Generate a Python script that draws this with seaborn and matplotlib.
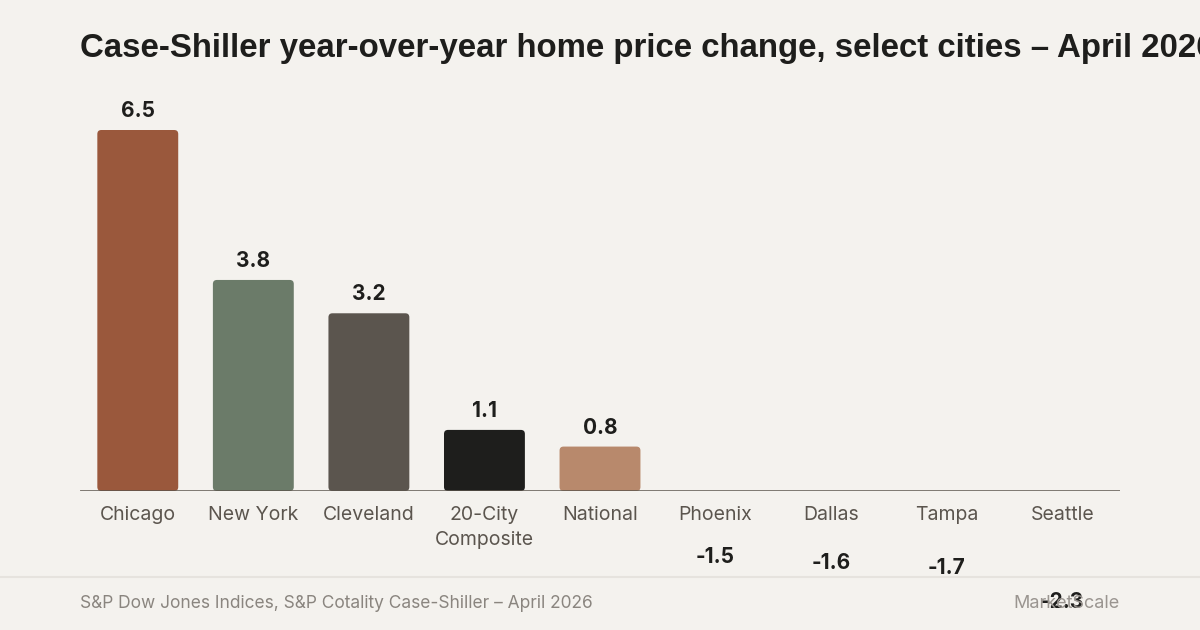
import numpy as np
import pandas as pd
import matplotlib
matplotlib.use("Agg")
import matplotlib.pyplot as plt
from matplotlib.patches import FancyBboxPatch
import seaborn as sns

cities = ["Chicago", "New York", "Cleveland", "20-City\nComposite", "National",
          "Phoenix", "Dallas", "Tampa", "Seattle"]
yoy_change = [6.5, 3.8, 3.2, 1.1, 0.8, -1.5, -1.6, -1.7, -2.3]
bar_colors = ["#9a583c", "#6b7b69", "#5b554e", "#1e1e1c", "#b8896c",
              "#c9a892", "#c9a892", "#c9a892", "#c9a892"]

title = "Case-Shiller year-over-year home price change, select cities \u2013 April 2026"
source = "S&P Dow Jones Indices, S&P Cotality Case-Shiller \u2013 April 2026"

BG = "#f4f2ee"

sns.set_theme(style="white")
plt.rcParams["font.family"] = ["Inter", "DejaVu Sans"]

df = pd.DataFrame({"city": cities, "change": yoy_change})

fig = plt.figure(figsize=(12, 6.3), dpi=100, facecolor=BG)
ax = fig.add_axes([80 / 1200, (630 - 491) / 630, 1040 / 1200, 391 / 630])
ax.set_facecolor(BG)

sns.barplot(data=df, x="city", y="change", hue="city", palette=bar_colors,
            legend=False, width=0.7, saturation=1, linewidth=0, ax=ax)

ax.set_xlim(-0.5, len(cities) - 0.5)
ymax = 6.5 * 391 / 361
ax.set_ylim(0, ymax)

# rounded corners on the visible (positive) bars
x_per_px = len(cities) / 1040
y_per_px = ymax / 391
for p in list(ax.patches):
    x, y = p.get_x(), p.get_y()
    w, h = p.get_width(), p.get_height()
    if h <= 0:
        continue
    fc = p.get_facecolor()
    p.remove()
    rb = FancyBboxPatch((x, y), w, h,
                        boxstyle="round,pad=0,rounding_size=%f" % (4 * x_per_px),
                        mutation_aspect=y_per_px / x_per_px,
                        facecolor=fc, edgecolor="none")
    ax.add_patch(rb)

for i, v in enumerate(yoy_change):
    ax.annotate(f"{v:.1f}", (i, v), xytext=(0, 6.5 if v > 0 else 5),
                textcoords="offset points",
                ha="center", va="bottom", fontsize=15, fontweight="bold",
                color="#1e1e1c", annotation_clip=False)

ax.axhline(0, color="#5c554d", lw=1.8, zorder=5)

for s in ax.spines.values():
    s.set_visible(False)
ax.set_yticks([])
ax.set_xlabel("")
ax.set_ylabel("")
ax.tick_params(axis="x", length=0, pad=11, labelsize=14, labelcolor="#5b554e")
for t in ax.get_xticklabels():
    t.set_linespacing(1.45)

fig.text(80 / 1200, 1 - 49 / 630, title, fontsize=23.8, fontweight="bold",
         family=["Liberation Sans", "DejaVu Sans"],
         color="#1e1e1c", ha="left", va="center")

fig.add_artist(plt.Line2D([0, 1], [1 - 577 / 630] * 2, color="#e6e3de", lw=1.5))
fig.text(80 / 1200, 1 - 604 / 630, source, fontsize=12.5, color="#8a857f",
         ha="left", va="center")
fig.text(1120 / 1200, 1 - 604 / 630, "MarketScale", fontsize=13, color="#9a9590",
         ha="right", va="center", zorder=0)

fig.savefig("out.png", dpi=100, facecolor=BG)
